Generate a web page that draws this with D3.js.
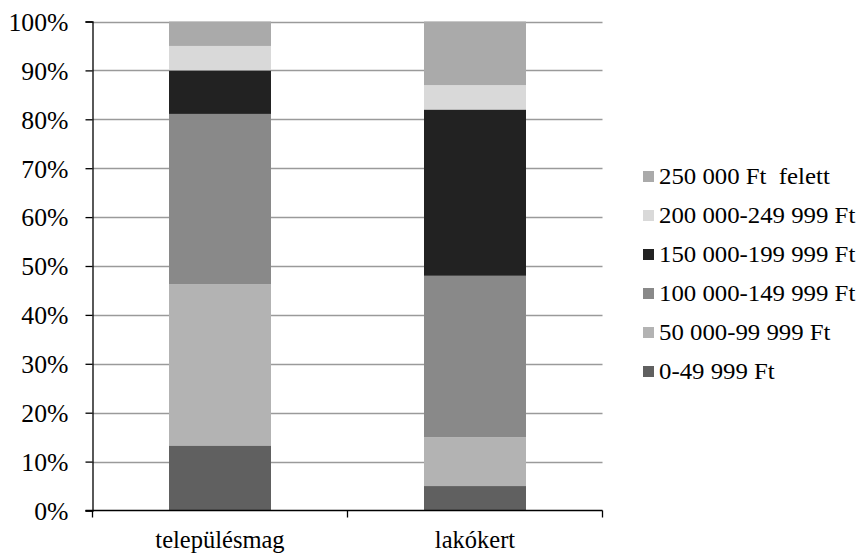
<!DOCTYPE html>
<html><head><meta charset="utf-8">
<script src="https://cdn.jsdelivr.net/npm/d3@7"></script>
<style>body{margin:0;background:#fff;}svg text{font-family:"Liberation Serif","Times New Roman",serif;fill:#000;}</style>
</head><body>
<svg id="c" width="859" height="555"></svg>
<script>
const categories = ["településmag", "lakókert"];
const seriesNames = ["0-49 999 Ft", "50 000-99 999 Ft", "100 000-149 999 Ft", "150 000-199 999 Ft", "200 000-249 999 Ft", "250 000 Ft  felett"];
const seriesColors = ["#606060", "#b3b3b3", "#898989", "#222222", "#d9d9d9", "#aaaaaa"];
const s0 = [13.3, 5];
const s1 = [33.0, 10];
const s2 = [34.8, 33];
const s3 = [8.9, 34];
const s4 = [5, 5];
const s5 = [5, 13];
const yTicks = [0, 10, 20, 30, 40, 50, 60, 70, 80, 90, 100];

const seriesValues = [s0, s1, s2, s3, s4, s5];
const data = categories.map((c, i) => {
  const o = {cat: c};
  seriesNames.forEach((n, j) => o[n] = seriesValues[j][i]);
  return o;
});
const svg = d3.select("#c");
const x0 = 92.5, x1 = 602.5, yTop = 21.5, yBot = 510.5;
const x = d3.scaleBand().domain(categories).range([x0, x1]).paddingInner(0.6).paddingOuter(0.3);
const y = d3.scaleLinear().domain([0, 100]).range([yBot, yTop]);

// gridlines
svg.append("g").selectAll("line").data(yTicks.filter(d => d > 0)).join("line")
  .attr("x1", x0).attr("x2", x1).attr("y1", d => Math.round(y(d)) + 0.5).attr("y2", d => Math.round(y(d)) + 0.5)
  .attr("stroke", "#9a9a9a").attr("stroke-width", 1.3);

const stack = d3.stack().keys(seriesNames)(data);
svg.append("g").selectAll("g").data(stack).join("g")
  .attr("fill", (d, i) => seriesColors[i])
  .selectAll("rect").data(d => d).join("rect")
  .attr("x", d => x(d.data.cat))
  .attr("width", x.bandwidth())
  .attr("y", d => y(d[1]))
  .attr("height", d => y(d[0]) - y(d[1]));

// y axis
const ya = svg.append("g").attr("transform", `translate(${x0},0)`)
  .call(d3.axisLeft(y).tickValues(yTicks).tickFormat(d => d + "%").tickSize(7).tickPadding(17));
ya.select(".domain").attr("stroke", "#000").attr("stroke-width", 1.3);
ya.selectAll(".tick line").attr("stroke", "#000").attr("stroke-width", 1.3);
ya.attr("font-size", null).attr("font-family", null);
ya.selectAll("text").attr("font-size", 24.5).attr("dy", "0.36em")
  .attr("x", 0).attr("transform", "translate(-24,0) scale(1.05,1)");

// x axis
const xa = svg.append("g").attr("transform", `translate(0,${yBot})`);
xa.append("line").attr("x1", x0 - 7).attr("x2", x1).attr("y1", 0).attr("y2", 0).attr("stroke", "#000").attr("stroke-width", 1.5);
const xt = [x0, (x0 + x1) / 2, x1];
xa.selectAll("line.t").data(xt).join("line").attr("class", "t")
  .attr("x1", d => d).attr("x2", d => d).attr("y1", 0).attr("y2", 7).attr("stroke", "#000").attr("stroke-width", 1.3);
xa.selectAll("text").data(categories).join("text")
  .attr("x", d => x(d) + x.bandwidth() / 2).attr("y", 37.5)
  .attr("text-anchor", "middle").attr("font-size", 24.5).text(d => d);

// legend
const lg = svg.append("g");
const order = seriesNames.map((n, i) => i).reverse();
const ly = d3.scalePoint().domain(order).range([176, 371]);
order.forEach(i => {
  lg.append("rect").attr("x", 643).attr("y", ly(i) - 5).attr("width", 11).attr("height", 11).attr("fill", seriesColors[i]);
  lg.append("text").attr("transform", `translate(659,${ly(i)}) scale(1.065,1)`).attr("dy", "0.35em").attr("font-size", 23.3)
    .attr("xml:space", "preserve").style("white-space", "pre").text(seriesNames[i]);
});
</script>
</body></html>
